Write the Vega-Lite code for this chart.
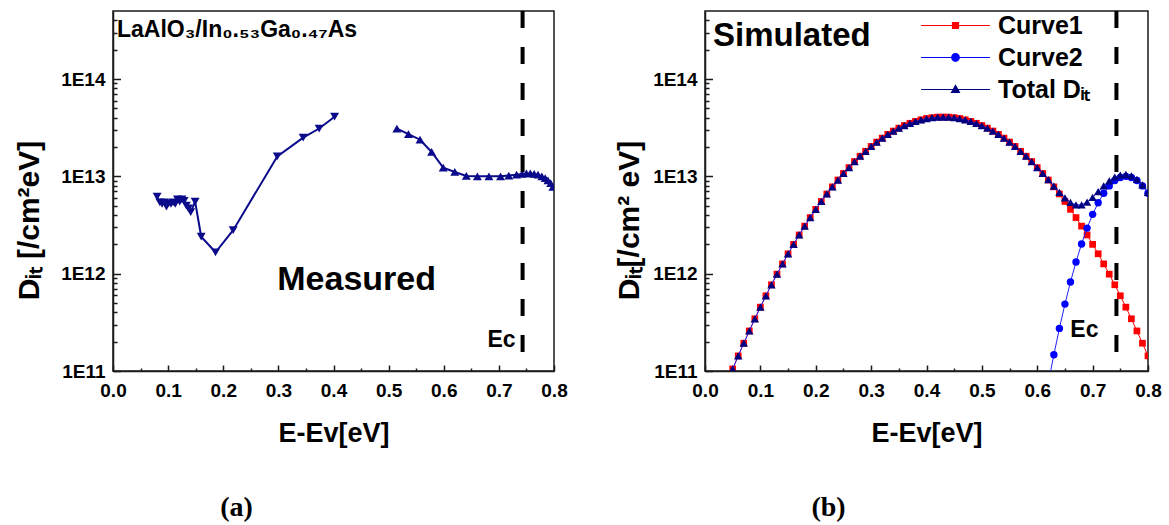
{
  "$schema": "https://vega.github.io/schema/vega-lite/v6.json",
  "background": "white",
  "padding": {"left": 13, "top": 8, "right": 0, "bottom": 0},
  "spacing": 45,
  "resolve": {"scale": {"shape": "independent", "fill": "independent", "stroke": "independent", "color": "independent"}, "legend": {"shape": "independent", "color": "independent"}},
  "config": {
    "font": "Liberation Sans",
    "view": {"stroke": "#1a1a1a", "strokeWidth": 1.5},
    "axis": {"domainColor": "#1a1a1a", "domainWidth": 1.5, "tickColor": "#1a1a1a", "tickWidth": 1.5, "grid": false,
      "labelFont": "Liberation Sans", "labelFontWeight": "bold", "labelFontSize": 19, "labelColor": "black",
      "titleFont": "Liberation Sans", "titleFontWeight": "bold", "titleColor": "black"},
    "legend": {"labelFont": "Liberation Sans", "labelFontSize": 25, "labelFontWeight": "bold", "labelColor": "black", "symbolStrokeWidth": 0, "symbolOpacity": 1, "padding": 0},
    "title": {"font": "Liberation Serif", "fontSize": 28, "fontWeight": "bold", "color": "black"}
  },
  "hconcat": [
    {
      "width": 441, "height": 360,
      "title": {"text": "(a)", "orient": "bottom", "anchor": "middle", "dx": -97, "offset": 48},
      "resolve": {"axis": {"x": "independent", "y": "independent"}},
      "layer": [
        {
          "data": {"values": [
            {"E": 0.080, "D": 6.2e12, "seg": "a"},
            {"E": 0.085, "D": 5.4e12, "seg": "a"},
            {"E": 0.089, "D": 5.2e12, "seg": "a"},
            {"E": 0.093, "D": 5.4e12, "seg": "a"},
            {"E": 0.097, "D": 4.9e12, "seg": "a"},
            {"E": 0.101, "D": 5.3e12, "seg": "a"},
            {"E": 0.105, "D": 5.2e12, "seg": "a"},
            {"E": 0.109, "D": 5.4e12, "seg": "a"},
            {"E": 0.113, "D": 5.2e12, "seg": "a"},
            {"E": 0.117, "D": 5.8e12, "seg": "a"},
            {"E": 0.121, "D": 5.5e12, "seg": "a"},
            {"E": 0.125, "D": 5.8e12, "seg": "a"},
            {"E": 0.129, "D": 5.6e12, "seg": "a"},
            {"E": 0.133, "D": 5.0e12, "seg": "a"},
            {"E": 0.137, "D": 4.7e12, "seg": "a"},
            {"E": 0.141, "D": 4.3e12, "seg": "a"},
            {"E": 0.149, "D": 5.5e12, "seg": "a"},
            {"E": 0.160, "D": 2.4e12, "seg": "a"},
            {"E": 0.186, "D": 1.66e12, "seg": "a"},
            {"E": 0.218, "D": 2.8e12, "seg": "a"},
            {"E": 0.298, "D": 1.6e13, "seg": "a"},
            {"E": 0.345, "D": 2.5e13, "seg": "a"},
            {"E": 0.374, "D": 3.1e13, "seg": "a"},
            {"E": 0.402, "D": 4.1e13, "seg": "a"},
            {"E": 0.515, "D": 3.1e13, "seg": "b"},
            {"E": 0.536, "D": 2.72e13, "seg": "b"},
            {"E": 0.557, "D": 2.38e13, "seg": "b"},
            {"E": 0.578, "D": 1.78e13, "seg": "b"},
            {"E": 0.599, "D": 1.23e13, "seg": "b"},
            {"E": 0.620, "D": 1.11e13, "seg": "b"},
            {"E": 0.641, "D": 1.01e13, "seg": "b"},
            {"E": 0.661, "D": 1.0e13, "seg": "b"},
            {"E": 0.682, "D": 1.0e13, "seg": "b"},
            {"E": 0.703, "D": 1.0e13, "seg": "b"},
            {"E": 0.718, "D": 1.02e13, "seg": "b"},
            {"E": 0.732, "D": 1.04e13, "seg": "b"},
            {"E": 0.742, "D": 1.06e13, "seg": "b"},
            {"E": 0.750, "D": 1.07e13, "seg": "b"},
            {"E": 0.757, "D": 1.07e13, "seg": "b"},
            {"E": 0.764, "D": 1.06e13, "seg": "b"},
            {"E": 0.771, "D": 1.04e13, "seg": "b"},
            {"E": 0.778, "D": 1.0e13, "seg": "b"},
            {"E": 0.784, "D": 9.6e12, "seg": "b"},
            {"E": 0.789, "D": 9.1e12, "seg": "b"},
            {"E": 0.794, "D": 8.5e12, "seg": "b"},
            {"E": 0.798, "D": 7.8e12, "seg": "b"}
          ]},
          "encoding": {
            "x": {"field": "E", "type": "quantitative", "scale": {"domain": [0, 0.8], "nice": false, "zero": false},
              "axis": {"orient": "bottom", "values": [0, 0.1, 0.2, 0.3, 0.4, 0.5, 0.6, 0.7, 0.8], "format": ".1f",
                "tickSize": -6, "labelPadding": 16, "labelFlush": false, "labelOverlap": false,
                "title": "E-Ev[eV]", "titleFontSize": 27, "titlePadding": 20}},
            "y": {"field": "D", "type": "quantitative", "scale": {"type": "log", "domain": [1e11, 5e14], "nice": false},
              "axis": {"orient": "left", "values": [1e11, 1e12, 1e13, 1e14],
                "labelExpr": "'1E' + round(log(datum.value)/LN10)",
                "tickSize": -7.5, "labelPadding": 15.5, "labelOverlap": false, "labelFlush": false,
                "title": "Dᵢₜ [/cm²eV]", "titleFontSize": 30, "titleY": 209, "titlePadding": 16}}
          },
          "layer": [
            {"mark": {"type": "line", "color": "#0a0a8a", "strokeWidth": 2, "clip": true}, "encoding": {"detail": {"field": "seg"}}},
            {"mark": {"type": "point", "filled": true, "color": "#0a0a8a", "size": 80, "opacity": 1, "clip": true},
              "encoding": {"shape": {"field": "seg", "type": "nominal", "scale": {"domain": ["a", "b"], "range": ["triangle-down", "triangle-up"]}, "legend": null}}}
          ]
        },
        {
          "data": {"values": [{"k": 1}]},
          "mark": {"type": "point", "opacity": 0},
          "encoding": {
            "x": {"datum": 0.4, "type": "quantitative", "axis": {"orient": "bottom", "values": [0.05, 0.15, 0.25, 0.35, 0.45, 0.55, 0.65, 0.75], "labels": false, "domain": false, "tickSize": -3, "title": null}},
            "y": {"datum": 1e12, "type": "quantitative", "axis": {"orient": "left", "values": [2e11, 3e11, 4e11, 5e11, 6e11, 7e11, 8e11, 9e11, 2e12, 3e12, 4e12, 5e12, 6e12, 7e12, 8e12, 9e12, 2e13, 3e13, 4e13, 5e13, 6e13, 7e13, 8e13, 9e13, 2e14, 3e14, 4e14], "labels": false, "domain": false, "tickSize": -4, "title": null}}
          }
        },
        {
          "data": {"values": [{"k": 1}]},
          "mark": {"type": "rule", "strokeDash": [17, 19], "strokeWidth": 4, "color": "black"},
          "encoding": {"x": {"datum": 0.743, "type": "quantitative", "axis": null}}
        },
        {
          "data": {"values": [{"txt": "LaAlO₃/In₀.₅₃Ga₀.₄₇As"}]},
          "mark": {"type": "text", "align": "left", "baseline": "alphabetic", "fontSize": 23, "fontWeight": "bold", "color": "black", "dx": 4},
          "encoding": {"x": {"datum": 0, "type": "quantitative", "axis": null}, "y": {"datum": 2.73e14, "type": "quantitative", "axis": null}, "text": {"field": "txt"}}
        },
        {
          "data": {"values": [{"txt": "Measured"}]},
          "mark": {"type": "text", "align": "center", "baseline": "alphabetic", "fontSize": 34, "fontWeight": "bold", "color": "black"},
          "encoding": {"x": {"datum": 0.442, "type": "quantitative", "axis": null}, "y": {"datum": 6.8e11, "type": "quantitative", "axis": null}, "text": {"field": "txt"}}
        },
        {
          "data": {"values": [{"txt": "Ec"}]},
          "mark": {"type": "text", "align": "right", "baseline": "alphabetic", "fontSize": 23, "fontWeight": "bold", "color": "black", "dx": -7},
          "encoding": {"x": {"datum": 0.743, "type": "quantitative", "axis": null}, "y": {"datum": 1.76e11, "type": "quantitative", "axis": null}, "text": {"field": "txt"}}
        }
      ]
    },
    {
      "width": 443, "height": 360,
      "title": {"text": "(b)", "orient": "bottom", "anchor": "middle", "dx": -98, "offset": 48},
      "resolve": {"axis": {"x": "independent", "y": "independent"}},
      "layer": [
        {
          "data": {"values": [
            {"E": 0.05, "c1": 1.05e11, "t": 1.05e11},
            {"E": 0.06, "c1": 1.43e11, "t": 1.43e11},
            {"E": 0.07, "c1": 1.93e11, "t": 1.93e11},
            {"E": 0.08, "c1": 2.58e11, "t": 2.58e11},
            {"E": 0.09, "c1": 3.44e11, "t": 3.44e11},
            {"E": 0.10, "c1": 4.53e11, "t": 4.53e11},
            {"E": 0.11, "c1": 5.93e11, "t": 5.93e11},
            {"E": 0.12, "c1": 7.69e11, "t": 7.69e11},
            {"E": 0.13, "c1": 9.89e11, "t": 9.89e11},
            {"E": 0.14, "c1": 1.26e12, "t": 1.26e12},
            {"E": 0.15, "c1": 1.60e12, "t": 1.60e12},
            {"E": 0.16, "c1": 2.00e12, "t": 2.00e12},
            {"E": 0.17, "c1": 2.50e12, "t": 2.50e12},
            {"E": 0.18, "c1": 3.08e12, "t": 3.08e12},
            {"E": 0.19, "c1": 3.77e12, "t": 3.77e12},
            {"E": 0.20, "c1": 4.58e12, "t": 4.58e12},
            {"E": 0.21, "c1": 5.52e12, "t": 5.52e12},
            {"E": 0.22, "c1": 6.59e12, "t": 6.59e12},
            {"E": 0.23, "c1": 7.80e12, "t": 7.80e12},
            {"E": 0.24, "c1": 9.17e12, "t": 9.17e12},
            {"E": 0.25, "c1": 1.07e13, "t": 1.07e13},
            {"E": 0.26, "c1": 1.23e13, "t": 1.23e13},
            {"E": 0.27, "c1": 1.42e13, "t": 1.42e13},
            {"E": 0.28, "c1": 1.61e13, "t": 1.61e13},
            {"E": 0.29, "c1": 1.81e13, "t": 1.81e13},
            {"E": 0.30, "c1": 2.03e13, "t": 2.03e13},
            {"E": 0.31, "c1": 2.25e13, "t": 2.25e13},
            {"E": 0.32, "c1": 2.47e13, "t": 2.47e13},
            {"E": 0.33, "c1": 2.70e13, "t": 2.70e13},
            {"E": 0.34, "c1": 2.92e13, "t": 2.92e13},
            {"E": 0.35, "c1": 3.13e13, "t": 3.13e13},
            {"E": 0.36, "c1": 3.33e13, "t": 3.33e13},
            {"E": 0.37, "c1": 3.51e13, "t": 3.51e13},
            {"E": 0.38, "c1": 3.67e13, "t": 3.67e13},
            {"E": 0.39, "c1": 3.81e13, "t": 3.81e13},
            {"E": 0.40, "c1": 3.93e13, "t": 3.93e13},
            {"E": 0.41, "c1": 4.01e13, "t": 4.01e13},
            {"E": 0.42, "c1": 4.06e13, "t": 4.06e13},
            {"E": 0.43, "c1": 4.07e13, "t": 4.07e13},
            {"E": 0.44, "c1": 4.06e13, "t": 4.06e13},
            {"E": 0.45, "c1": 4.01e13, "t": 4.01e13},
            {"E": 0.46, "c1": 3.93e13, "t": 3.93e13},
            {"E": 0.47, "c1": 3.81e13, "t": 3.81e13},
            {"E": 0.48, "c1": 3.67e13, "t": 3.67e13},
            {"E": 0.49, "c1": 3.51e13, "t": 3.51e13},
            {"E": 0.50, "c1": 3.33e13, "t": 3.33e13},
            {"E": 0.51, "c1": 3.13e13, "t": 3.13e13},
            {"E": 0.52, "c1": 2.92e13, "t": 2.92e13},
            {"E": 0.53, "c1": 2.70e13, "t": 2.70e13},
            {"E": 0.54, "c1": 2.47e13, "t": 2.47e13},
            {"E": 0.55, "c1": 2.25e13, "t": 2.25e13},
            {"E": 0.56, "c1": 2.03e13, "t": 2.03e13},
            {"E": 0.57, "c1": 1.81e13, "t": 1.81e13},
            {"E": 0.58, "c1": 1.61e13, "t": 1.61e13},
            {"E": 0.59, "c1": 1.42e13, "t": 1.42e13},
            {"E": 0.60, "c1": 1.23e13, "t": 1.23e13},
            {"E": 0.61, "c1": 1.07e13, "c2": 3.6e10, "t": 1.07e13},
            {"E": 0.62, "c1": 9.17e12, "c2": 7.5e10, "t": 9.25e12},
            {"E": 0.63, "c1": 7.80e12, "c2": 1.47e11, "t": 7.95e12},
            {"E": 0.64, "c1": 6.59e12, "c2": 2.74e11, "t": 6.86e12},
            {"E": 0.65, "c1": 5.52e12, "c2": 4.87e11, "t": 6.01e12},
            {"E": 0.66, "c1": 4.58e12, "c2": 8.22e11, "t": 5.40e12},
            {"E": 0.67, "c1": 3.77e12, "c2": 1.32e12, "t": 5.09e12},
            {"E": 0.68, "c1": 3.08e12, "c2": 2.02e12, "t": 5.10e12},
            {"E": 0.69, "c1": 2.50e12, "c2": 2.94e12, "t": 5.44e12},
            {"E": 0.70, "c1": 2.00e12, "c2": 4.07e12, "t": 6.07e12},
            {"E": 0.71, "c1": 1.60e12, "c2": 5.35e12, "t": 6.95e12},
            {"E": 0.72, "c1": 1.26e12, "c2": 6.70e12, "t": 7.96e12},
            {"E": 0.73, "c1": 9.89e11, "c2": 7.98e12, "t": 8.97e12},
            {"E": 0.74, "c1": 7.69e11, "c2": 9.05e12, "t": 9.82e12},
            {"E": 0.75, "c1": 5.93e11, "c2": 9.75e12, "t": 1.03e13},
            {"E": 0.76, "c1": 4.53e11, "c2": 1.00e13, "t": 1.05e13},
            {"E": 0.77, "c1": 3.44e11, "c2": 9.75e12, "t": 1.01e13},
            {"E": 0.78, "c1": 2.58e11, "c2": 9.05e12, "t": 9.31e12},
            {"E": 0.79, "c1": 1.93e11, "c2": 7.98e12, "t": 8.17e12},
            {"E": 0.80, "c1": 1.43e11, "c2": 6.70e12, "t": 6.84e12}
          ]},
          "transform": [{"fold": ["c1", "c2", "t"], "as": ["s", "D"]}, {"filter": "isValid(datum.D)"}],
          "encoding": {
            "x": {"field": "E", "type": "quantitative", "scale": {"domain": [0, 0.8], "nice": false, "zero": false},
              "axis": {"orient": "bottom", "values": [0, 0.1, 0.2, 0.3, 0.4, 0.5, 0.6, 0.7, 0.8], "format": ".1f",
                "tickSize": -6, "labelPadding": 16, "labelFlush": false, "labelOverlap": false,
                "title": "E-Ev[eV]", "titleFontSize": 27, "titlePadding": 20}},
            "y": {"field": "D", "type": "quantitative", "scale": {"type": "log", "domain": [1e11, 5e14], "nice": false},
              "axis": {"orient": "left", "values": [1e11, 1e12, 1e13, 1e14],
                "labelExpr": "'1E' + round(log(datum.value)/LN10)",
                "tickSize": -7.5, "labelPadding": 15.5, "labelOverlap": false, "labelFlush": false,
                "title": "Dᵢₜ[/cm² eV]", "titleFontSize": 30, "titleY": 209, "titlePadding": 8}}
          },
          "layer": [
            {"transform": [{"filter": "datum.s == 'c1'"}], "mark": {"type": "line", "color": "#ff0000", "strokeWidth": 1, "clip": true}},
            {"transform": [{"filter": "datum.s == 'c1'"}], "mark": {"type": "point", "shape": "square", "filled": true, "color": "#ff0000", "size": 45, "opacity": 1, "clip": true}},
            {"transform": [{"filter": "datum.s == 'c2'"}], "mark": {"type": "line", "color": "#2020ff", "strokeWidth": 1, "clip": true}},
            {"transform": [{"filter": "datum.s == 'c2'"}], "mark": {"type": "point", "shape": "circle", "filled": true, "color": "#0000ff", "size": 55, "opacity": 1, "clip": true}},
            {"transform": [{"filter": "datum.s == 't'"}], "mark": {"type": "line", "color": "#2020ff", "strokeWidth": 1, "clip": true}},
            {"transform": [{"filter": "datum.s == 't'"}], "mark": {"type": "point", "shape": "triangle-up", "filled": true, "color": "#000080", "size": 70, "opacity": 1, "clip": true}}
          ]
        },
        {
          "data": {"values": [{"k": 1}]},
          "mark": {"type": "point", "opacity": 0},
          "encoding": {
            "x": {"datum": 0.4, "type": "quantitative", "axis": {"orient": "bottom", "values": [0.05, 0.15, 0.25, 0.35, 0.45, 0.55, 0.65, 0.75], "labels": false, "domain": false, "tickSize": -3, "title": null}},
            "y": {"datum": 1e12, "type": "quantitative", "axis": {"orient": "left", "values": [2e11, 3e11, 4e11, 5e11, 6e11, 7e11, 8e11, 9e11, 2e12, 3e12, 4e12, 5e12, 6e12, 7e12, 8e12, 9e12, 2e13, 3e13, 4e13, 5e13, 6e13, 7e13, 8e13, 9e13, 2e14, 3e14, 4e14], "labels": false, "domain": false, "tickSize": -4, "title": null}}
          }
        },
        {
          "data": {"values": [{"k": 1}]},
          "mark": {"type": "rule", "strokeDash": [17, 19], "strokeWidth": 4, "color": "black"},
          "encoding": {"x": {"datum": 0.743, "type": "quantitative", "axis": null}}
        },
        {
          "data": {"values": [{"txt": "Simulated"}]},
          "mark": {"type": "text", "align": "left", "baseline": "alphabetic", "fontSize": 33, "fontWeight": "bold", "color": "black", "dx": 8},
          "encoding": {"x": {"datum": 0, "type": "quantitative", "axis": null}, "y": {"datum": 2.17e14, "type": "quantitative", "axis": null}, "text": {"field": "txt"}}
        },
        {
          "data": {"values": [{"txt": "Ec"}]},
          "mark": {"type": "text", "align": "right", "baseline": "alphabetic", "fontSize": 23, "fontWeight": "bold", "color": "black", "dx": -18},
          "encoding": {"x": {"datum": 0.743, "type": "quantitative", "axis": null}, "y": {"datum": 2.23e11, "type": "quantitative", "axis": null}, "text": {"field": "txt"}}
        },
        {
          "data": {"values": [{"s": "c1"}, {"s": "c2"}, {"s": "t"}]},
          "transform": [{"filter": "datum.s == 'none'"}],
          "mark": {"type": "point", "filled": true, "opacity": 1},
          "encoding": {
            "color": {"field": "s", "type": "nominal", "scale": {"domain": ["c1", "c2", "t"], "range": ["#ff0000", "#0000ff", "#000080"]},
              "legend": {"orient": "none", "legendX": 238, "legendY": 2, "title": null, "symbolSize": 256, "labelOffset": 30, "rowPadding": 6,
                "labelExpr": "datum.label == 'c1' ? 'Curve1' : datum.label == 'c2' ? 'Curve2' : 'Total Dᵢₜ'"}},
            "shape": {"field": "s", "type": "nominal", "scale": {"domain": ["c1", "c2", "t"], "range": [
                "M-4.3,-0.065H4.3V0.065H-4.3ZM-0.45,-0.45H0.45V0.45H-0.45Z",
                "M-4.3,-0.065H4.3V0.065H-4.3ZM0.55,0A0.55,0.55,0,1,1,-0.55,0A0.55,0.55,0,1,1,0.55,0Z",
                "M-4.3,-0.065H4.3V0.065H-4.3ZM0,-0.65L0.62,0.45H-0.62Z"]},
              "legend": {"orient": "none", "legendX": 238, "legendY": 2, "title": null, "symbolSize": 256, "labelOffset": 30, "rowPadding": 6,
                "labelExpr": "datum.label == 'c1' ? 'Curve1' : datum.label == 'c2' ? 'Curve2' : 'Total Dᵢₜ'"}}
          }
        }
      ]
    }
  ]
}
